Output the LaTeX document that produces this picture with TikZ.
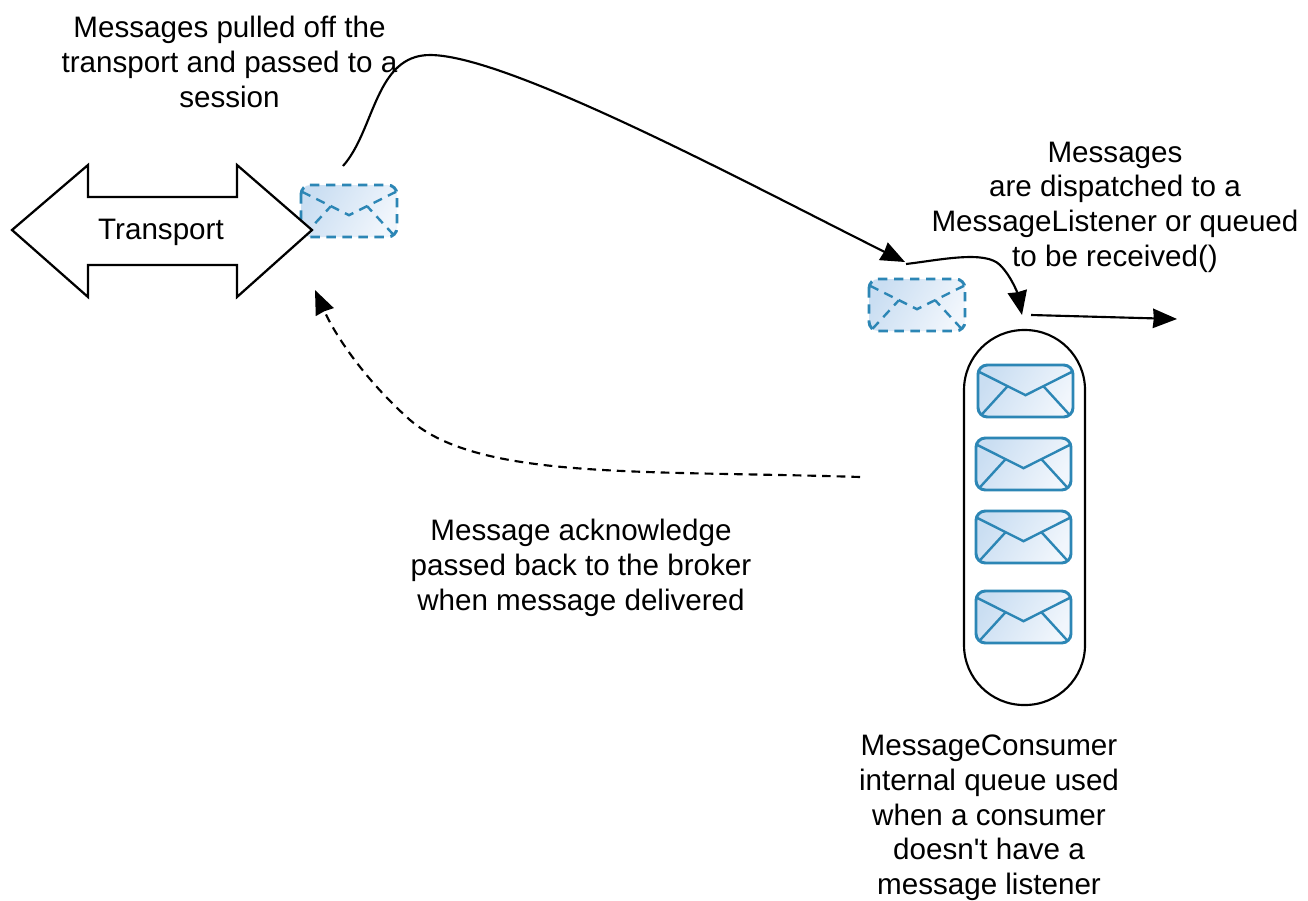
\documentclass[tikz,border=0pt]{standalone}
\usepackage{fontspec}
\defaultfontfeatures[\rmfamily]{}
\setmainfont{Liberation Sans}
\usetikzlibrary{arrows.meta}
\definecolor{envline}{HTML}{2C86B5}
\definecolor{envdark}{HTML}{CADEF2}
\definecolor{envlight}{HTML}{F1F6FC}
\tikzset{
  envbody/.style={draw=envline,line width=2.2pt,rounded corners=7pt,top color=envdark,bottom color=envlight,shading angle=60},
  envfold/.style={draw=envline,line width=1.8pt},
  conn/.style={draw=black,line width=1.6pt,-{Stealth[inset=0.6pt,length=18pt,width=14.5pt]}},
  lbl/.style={align=center,font=\fontsize{22.2}{26}\selectfont,inner sep=0pt,text=black},
  dashenv/.style={dash pattern=on 7pt off 5pt},
  dashconn/.style={dash pattern=on 6.5pt off 4.5pt},
}
% left, top, width, height, extra style, name
\newcommand{\envelopeat}[6]{%
  \begin{scope}[shift={(#1,#2)},x=#3*0.75pt,y=-#4*0.75pt]
    \path[envbody,#5] (0,0) rectangle (1,1);
    \draw[envfold,#5] (0.01,0.13) -- (0.5,0.58) -- (0.99,0.13);
    \draw[envfold,#5] (0.035,0.96) -- (0.31,0.41);
    \draw[envfold,#5] (0.965,0.96) -- (0.69,0.41);
  \end{scope}
  \coordinate (#6) at (#1+#3/2,#2+#4/2);
}
\begin{document}
\begin{tikzpicture}[x=0.75pt,y=-0.75pt]
\useasboundingbox (0,0) rectangle (1308,900);
\fill[white] (0,0) rectangle (1308,900);
% queue
\node[draw=black,line width=1.6pt,rounded corners=45pt,minimum width=90.75pt,minimum height=281.25pt,inner sep=0pt] (queue) at (1024.5,517.5) {};
\envelopeat{301}{185}{96}{52}{dashenv}{envA}
\envelopeat{869}{279}{96}{52}{dashenv}{envB}
\envelopeat{978}{365}{95}{52}{}{q1}
\envelopeat{976}{438}{95}{52}{}{q2}
\envelopeat{976}{511}{95}{52}{}{q3}
\envelopeat{976}{591}{95}{52}{}{q4}
\draw[black,line width=1.7pt,fill=white,line join=miter]
  (12,230) -- (88,165) -- (88,197) -- (237,197) -- (237,165) -- (312,230) -- (237,297) -- (237,265) -- (88,265) -- (88,297) -- cycle;
\node[lbl] (transport) at (161,232) {Transport};
\node[lbl] (t1) at (229.5,62) {Messages pulled off the\\transport and passed to a\\session};
\node[lbl] (t2) at (1115,207) {Messages\\are dispatched to a\\MessageListener or queued\\to be received()};
\node[lbl] (t3) at (581,568) {Message acknowledge\\passed back to the broker\\when message delivered};
\node[lbl] (t4) at (989,818) {MessageConsumer\\internal queue used\\when a consumer\\doesn't have a\\message listener};
\coordinate (a0) at (343,166);
\coordinate (a1) at (905,262);
\coordinate (b0) at (906,264);
\coordinate (b1) at (1022,315);
\coordinate (c0) at (1031,315);
\coordinate (c1) at (1177,319);
\coordinate (d0) at (860,477);
\coordinate (d1) at (315,290);
\draw[conn] (a0) .. controls (375,130) and (375,55) .. (430,55) .. controls (510,55) and (760,190) .. (a1);
\draw[conn] (b0) .. controls (940,260) and (985,250) .. (1000,265) .. controls (1012,277) and (1018,295) .. (b1);
\draw[conn] (c0) -- (c1);
\draw[conn,dashconn] (d0) .. controls (640,470) and (480,480) .. (410,420) .. controls (365,380) and (335,335) .. (d1);
\end{tikzpicture}
\end{document}
